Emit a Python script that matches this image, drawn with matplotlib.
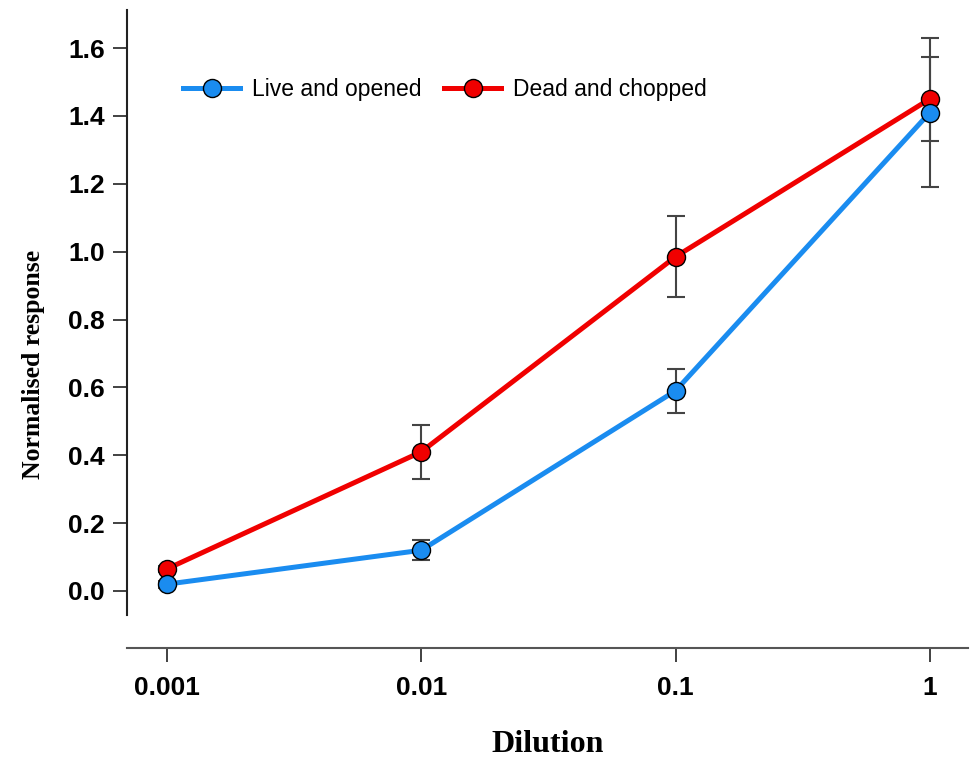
import numpy as np
import matplotlib.pyplot as plt

# dilution levels on the x axis
dilution = [0.001, 0.01, 0.1, 1]
tick_labels = ["0.001", "0.01", "0.1", "1"]

# live and opened
live_mean = [0.02, 0.12, 0.59, 1.41]
live_err = [0.01, 0.03, 0.065, 0.22]

# dead and chopped
dead_mean = [0.065, 0.41, 0.985, 1.45]
dead_err = [0.01, 0.08, 0.12, 0.125]

blue = "#1a8cf0"
red = "#f00000"

fig = plt.figure(figsize=(9.73, 7.60), dpi=100)
ax = fig.add_axes([0.1305, 0.1474, 0.8644, 0.8394])

# error bars first so the markers sit on top
ax.errorbar(dilution, live_mean, yerr=live_err, fmt="none", ecolor="#444444",
            elinewidth=1.5, capsize=6.5, capthick=1.5, zorder=1)
ax.errorbar(dilution, dead_mean, yerr=dead_err, fmt="none", ecolor="#444444",
            elinewidth=1.5, capsize=6.5, capthick=1.5, zorder=1)

ax.plot(dilution, live_mean, color=blue, lw=3.6, marker="o", ms=13,
        mfc=blue, mec="black", mew=1.0, label="Live and opened", zorder=3)
ax.plot(dilution, dead_mean, color=red, lw=3.6, marker="o", ms=13,
        mfc=red, mec="black", mew=1.0, label="Dead and chopped", zorder=2)

ax.set_xscale("log")
ax.set_xlim(10 ** -3.157, 10 ** 0.15)
ax.set_ylim(-0.168, 1.712)
ax.set_xticks(dilution)
ax.set_xticklabels(tick_labels)
ax.minorticks_off()
ax.set_yticks(np.arange(0, 1.61, 0.2))
ax.set_yticklabels(["%.1f" % v for v in np.arange(0, 1.61, 0.2)])

for lab in ax.get_xticklabels() + ax.get_yticklabels():
    lab.set_fontfamily("Liberation Sans")
    lab.set_fontweight("bold")
    lab.set_fontsize(19)

ax.tick_params(direction="out", length=10, width=1.3, color="#333333")
ax.tick_params(axis="x", pad=10)
ax.tick_params(axis="y", pad=6)

ax.spines["top"].set_visible(False)
ax.spines["right"].set_visible(False)
ax.spines["left"].set_bounds(-0.071, 1.712)
ax.spines["left"].set_linewidth(1.5)
ax.spines["bottom"].set_linewidth(1.5)
ax.spines["left"].set_color("#222222")
ax.spines["bottom"].set_color("#555555")

ax.set_xlabel("Dilution", fontfamily="Liberation Serif", fontweight="bold",
              fontsize=23, labelpad=22)
ax.set_ylabel("Normalised response", fontfamily="Liberation Serif",
              fontweight="bold", fontsize=18.5)
ax.yaxis.set_label_coords(-0.097, 0.444)

ax.legend(loc="center left", bbox_to_anchor=(0.0666, 0.875), ncol=2,
          frameon=False, borderpad=0, borderaxespad=0,
          prop={"family": "Liberation Sans", "size": 16.5}, handlelength=2.5,
          columnspacing=1.0, handletextpad=0.5)

fig.savefig("out.png", dpi=100)
